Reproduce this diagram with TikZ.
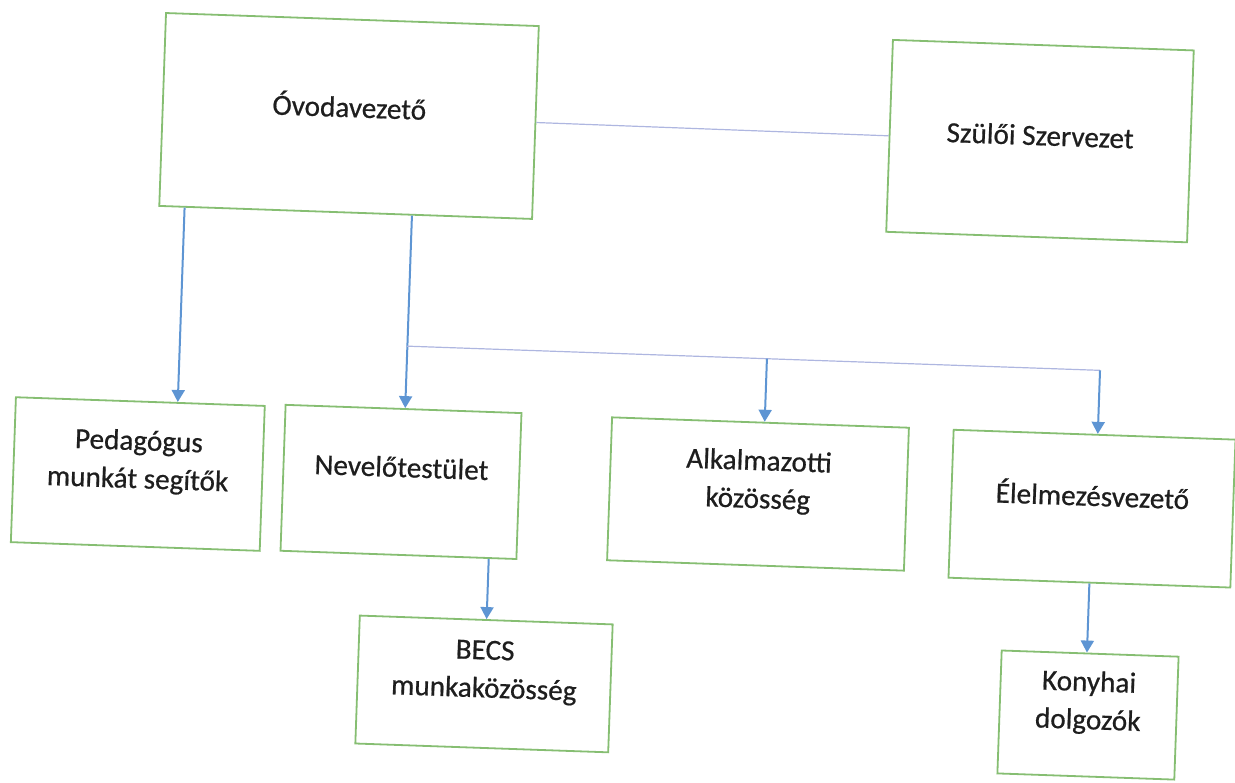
\documentclass[tikz,border=0pt]{standalone}
\usepackage{fontspec}
\setmainfont[FakeBold=0.6,AutoFakeBold=0.6]{Carlito}
\usepackage{tikz}
\usetikzlibrary{arrows.meta,calc}
\definecolor{boxgreen}{HTML}{86BE72}
\definecolor{arrowblue}{HTML}{5E95D3}
\definecolor{linklilac}{HTML}{AEB6E0}
\definecolor{inkgray}{HTML}{1E1E1E}

\begin{document}
\begin{tikzpicture}[x=0.5pt,y=-0.5pt,font=\fontsize{14.6}{19}\selectfont\bfseries,
  orgbox/.style={draw=boxgreen,line width=0.9pt,fill=white,align=center,
    text=inkgray,inner sep=0pt,text depth=15pt},
  down/.style={arrowblue,line width=1pt,-{Triangle[length=6pt,width=6.5pt]}},
  link/.style={linklilac,line width=0.6pt}]
  \useasboundingbox (0,0) rectangle (1235,782);
  \begin{scope}[rotate around={-2:(617,391)},transform shape]
    \node[orgbox,minimum width=186.5pt,minimum height=96.5pt,text depth=11pt]
      (ovoda) at (339.6,125.5) {Óvodavezető};
    \node[orgbox,minimum width=150.5pt,minimum height=96pt,text depth=6pt]
      (szulo) at (1031,126.5) {Szülői Szervezet};
    \node[orgbox,minimum width=124.5pt,minimum height=72.5pt]
      (ped) at (141,490.7) {Pedagógus\\munkát segítők};
    \node[orgbox,minimum width=118pt,minimum height=73pt]
      (nev) at (404.3,489.4) {Nevelőtestület};
    \node[orgbox,minimum width=148.5pt,minimum height=71.5pt]
      (alk) at (761.5,489) {Alkalmazotti\\közösség};
    \node[orgbox,minimum width=141pt,minimum height=74pt]
      (elel) at (1095.8,492) {Élelmezésvezető};
    \node[orgbox,minimum width=126.5pt,minimum height=64pt]
      (becs) at (494.3,688.4) {BECS\\munkaközösség};
    \node[orgbox,minimum width=88.5pt,minimum height=61.5pt]
      (kony) at (1099,698.4) {Konyhai\\dolgozók};

    \coordinate (ovPed) at ($(ovoda.south west)!0.07!(ovoda.south east)$);
    \coordinate (ovNev) at ($(ovoda.south west)!0.677!(ovoda.south east)$);
    \coordinate (nevBecs) at ($(nev.south west)!0.88!(nev.south east)$);
    \coordinate (forkL) at (405.5,353.5);
    \coordinate (forkA) at (765.7,353.5);
    \coordinate (forkR) at (1099,353.5);

    \draw[link] (ovoda.east) -- (szulo.west);
    \draw[down] (ovPed) -- ($(ped.north west)!(ovPed)!(ped.north east)$);
    \draw[down] (ovNev) -- ($(nev.north west)!(ovNev)!(nev.north east)$);
    \draw[link] (forkL) -- (forkR);
    \draw[down] (forkA) -- ($(alk.north west)!(forkA)!(alk.north east)$);
    \draw[down] (forkR) -- ($(elel.north west)!(forkR)!(elel.north east)$);
    \draw[down] (nevBecs) -- ($(becs.north west)!(nevBecs)!(becs.north east)$);
    \draw[down] (elel.south) -- ($(kony.north west)!(elel.south)!(kony.north east)$);
  \end{scope}
\end{tikzpicture}
\end{document}
